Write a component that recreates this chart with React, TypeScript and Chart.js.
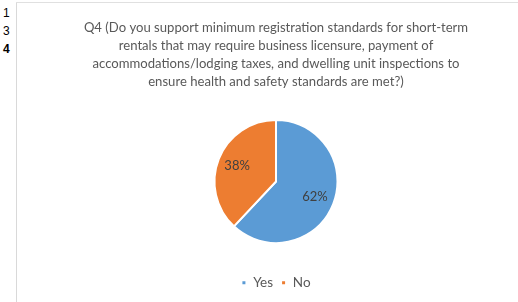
import React, { useEffect, useRef } from "react";
import { Chart, registerables } from "chart.js";

Chart.register(...registerables);

const categories = ["Yes", "No"];
const values = [62, 38];
const colors = ["#5B9BD5", "#ED7D31"];
const titleLines = [
  "Q4 (Do you support minimum registration standards for short-term",
  "rentals that may require business licensure, payment of",
  "accommodations/lodging taxes, and dwelling unit inspections to",
  "ensure health and safety standards are met?)",
];
const rowNumbers = ["1", "3", "4"];

const FONT = "Lato, 'Noto Sans', sans-serif";

const pctLabels = {
  id: "pctLabels",
  afterDatasetsDraw(chart: any) {
    const ctx = chart.ctx;
    const meta = chart.getDatasetMeta(0);
    const total = values.reduce((a, b) => a + b, 0);
    ctx.save();
    ctx.font = `13px ${FONT}`;
    ctx.fillStyle = "#404040";
    ctx.textAlign = "center";
    ctx.textBaseline = "middle";
    meta.data.forEach((arc: any, i: number) => {
      const p = arc.getProps(["x", "y", "startAngle", "endAngle", "outerRadius"], true);
      const mid = (p.startAngle + p.endAngle) / 2;
      const r = p.outerRadius * 0.68;
      const x = p.x + Math.cos(mid) * r;
      const y = p.y + Math.sin(mid) * r;
      ctx.fillText(Math.round((values[i] / total) * 100) + "%", x, y);
    });
    ctx.restore();
  },
};

export default function App() {
  const ref = useRef<HTMLCanvasElement>(null);
  useEffect(() => {
    document.body.style.margin = "0";
    const chart = new Chart(ref.current!, {
      type: "pie",
      data: {
        labels: categories,
        datasets: [
          {
            data: values,
            backgroundColor: colors,
            borderColor: "#ffffff",
            borderWidth: 2,
          },
        ],
      },
      options: {
        responsive: false,
        animation: false,
        layout: { padding: { left: 17, right: 0, top: 0, bottom: 2.5 } },
        plugins: {
          title: {
            display: true,
            text: titleLines,
            color: "#595959",
            font: { family: FONT, size: 13.1, weight: "normal", lineHeight: "18px" },
            padding: { top: 16, bottom: 28 },
          },
          legend: {
            position: "bottom",
            title: {
              display: true,
              text: "",
              font: { size: 1, lineHeight: "1px" },
              padding: { top: 23, bottom: 0 },
            },
            labels: {
              boxWidth: 5,
              boxHeight: 5,
              color: "#595959",
              font: { family: FONT, size: 13.5 },
              padding: 8,
            },
          },
          tooltip: { enabled: false },
        },
      },
      plugins: [pctLabels],
    });
    return () => chart.destroy();
  }, []);

  return (
    <div style={{ position: "fixed", left: 0, top: 0, width: 518, height: 302, background: "#fff", overflow: "hidden" }}>
      {rowNumbers.map((n, i) => (
        <div
          key={n}
          style={{
            position: "absolute",
            left: 3,
            top: 6 + i * 18,
            fontFamily: "'Liberation Sans', Arial, sans-serif",
            fontSize: 12,
            fontWeight: i === 2 ? "bold" : "normal",
            color: "#000",
            lineHeight: "14px",
          }}
        >
          {n}
        </div>
      ))}
      <div style={{ position: "absolute", left: 16, top: 2, width: 1, height: 300, background: "#d9d9d9" }} />
      <div style={{ position: "absolute", left: 16, top: 2, width: 502, height: 1, background: "#e0e0e0" }} />
      <canvas ref={ref} width={501} height={299} style={{ position: "absolute", left: 17, top: 3 }} />
    </div>
  );
}
